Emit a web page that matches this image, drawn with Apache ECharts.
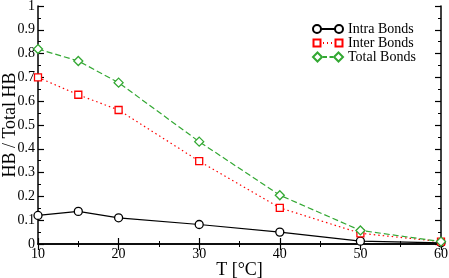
<!DOCTYPE html>
<html><head><meta charset="utf-8">
<script src="https://cdn.jsdelivr.net/npm/echarts@6/dist/echarts.min.js"></script>
<style>html,body{margin:0;padding:0;background:#fff}#c{width:449px;height:278px}</style>
</head><body><div id="c"></div>
<script>
const temps = [10, 15, 20, 30, 40, 50, 60];
const intra = [0.12, 0.137, 0.11, 0.082, 0.05, 0.012, 0.005];
const inter = [0.70, 0.627, 0.563, 0.348, 0.152, 0.045, 0.01];
const total = [0.819, 0.769, 0.678, 0.43, 0.205, 0.057, 0.01];
const seriesNames = ['Intra Bonds', 'Inter Bonds', 'Total Bonds'];
const pair = a => temps.map((t, i) => [t, a[i]]);
const font = 'Liberation Serif';
const chart = echarts.init(document.getElementById('c'));
const axisBase = {
  axisLine: {show: true, lineStyle: {color: '#000', width: 1.5}},
  axisTick: {show: true, inside: true, length: 6, lineStyle: {color: '#000', width: 1.2}},
  minorTick: {show: true, splitNumber: 2, length: 3, lineStyle: {color: '#000', width: 1}},
  splitLine: {show: false}
};
// legend icons: two markers joined by a line (line pattern per series)
const circ = (cx) => `M${cx - 4},5 a4,4 0 1,0 8,0 a4,4 0 1,0 -8,0 `;
const sq = (cx) => `M${cx - 3.5},1.5 L${cx + 3.5},1.5 L${cx + 3.5},8.5 L${cx - 3.5},8.5 Z `;
const dia = (cx) => `M${cx},0.5 L${cx + 4.5},5 L${cx},9.5 L${cx - 4.5},5 Z `;
const iconIntra = 'path://' + circ(4) + circ(26) + 'M8,5 L22,5';
const iconInter = 'path://' + sq(4) + sq(26) + 'M10,5 L11,5 M14,5 L15,5 M18,5 L19,5 M0,0 M30,10';
const iconTotal = 'path://' + dia(4.5) + dia(25.5) + 'M10,5 L14,5 M16.5,5 L20,5 M0,0 M30,10';
chart.setOption({
  animation: false,
  grid: {left: 38, right: 8, top: 6, bottom: 34, outerBoundsMode: 'none', containLabel: false},
  legend: {
    top: 22, left: 312, orient: 'vertical', padding: 0, itemGap: 0, itemWidth: 30, itemHeight: 10,
    textStyle: {fontFamily: font, fontSize: 14, lineHeight: 13, color: '#000'},
    data: [
      {name: seriesNames[0], icon: iconIntra},
      {name: seriesNames[1], icon: iconInter},
      {name: seriesNames[2], icon: iconTotal}
    ]
  },
  xAxis: [
    Object.assign({}, axisBase, {
      type: 'value', min: 10, max: 60, interval: 10, position: 'bottom',
      name: 'T [°C]', nameLocation: 'middle', nameGap: 17, nameMoveOverlap: false,
      nameTextStyle: {fontFamily: font, fontSize: 18, color: '#000'},
      axisLabel: {fontFamily: font, fontSize: 14, color: '#000', margin: 3}
    }),
    Object.assign({}, axisBase, {
      type: 'value', min: 10, max: 60, interval: 10, position: 'top',
      axisLabel: {show: false}
    })
  ],
  yAxis: [
    Object.assign({}, axisBase, {
      type: 'value', min: 0, max: 1, interval: 0.1, position: 'left',
      name: 'HB / Total HB', nameLocation: 'middle', nameGap: 19, nameMoveOverlap: false,
      nameTextStyle: {fontFamily: font, fontSize: 18, color: '#000'},
      axisLabel: {fontFamily: font, fontSize: 14, color: '#000', margin: 3,
        formatter: v => (Math.round(v * 10) / 10).toString()}
    }),
    Object.assign({}, axisBase, {
      type: 'value', min: 0, max: 1, interval: 0.1, position: 'right',
      axisLabel: {show: false}
    })
  ],
  series: [
    {name: seriesNames[0], type: 'line', data: pair(intra), symbol: 'circle', symbolSize: 8,
      lineStyle: {color: '#000', width: 1.2, type: 'solid'},
      itemStyle: {color: '#fff', borderColor: '#000', borderWidth: 1.3}},
    {name: seriesNames[1], type: 'line', data: pair(inter), symbol: 'rect', symbolSize: 7,
      lineStyle: {color: '#ff0000', width: 1.2, type: [1.5, 3]},
      itemStyle: {color: '#fff', borderColor: '#ff0000', borderWidth: 1.3}},
    {name: seriesNames[2], type: 'line', data: pair(total), symbol: 'diamond', symbolSize: 9,
      lineStyle: {color: '#33a833', width: 1.2, type: [6, 3]},
      itemStyle: {color: '#fff', borderColor: '#33a833', borderWidth: 1.3}}
  ]
});
</script></body></html>
